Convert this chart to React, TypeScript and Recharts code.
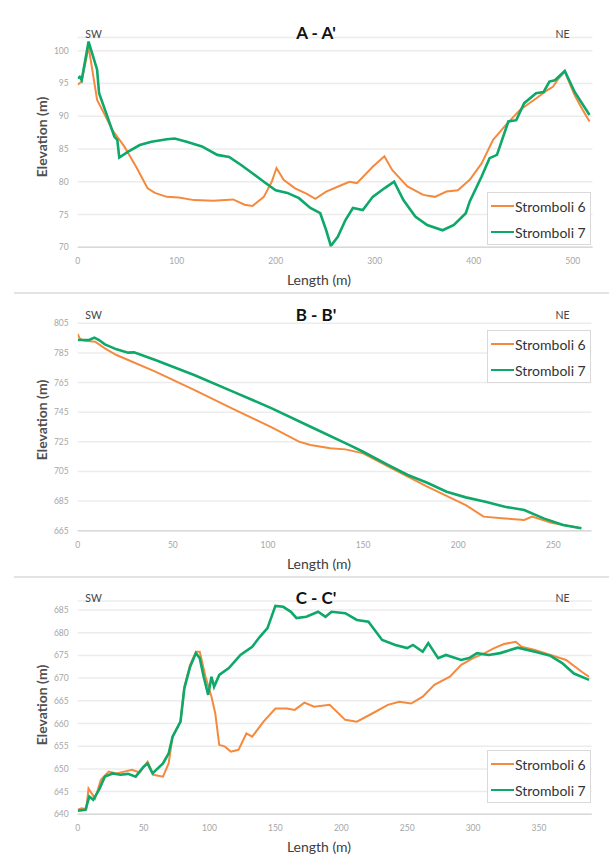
import React from 'react';
import { LineChart, Line, XAxis, YAxis, CartesianGrid } from 'recharts';

const FONT = 'Lato, "Noto Sans", sans-serif';
const ORANGE = '#F5893D';
const GREEN = '#0DA86A';

// A - A'
const A_LEN_TICKS = [0, 100, 200, 300, 400, 500];
const A_ELEV_TICKS = [70, 75, 80, 85, 90, 95, 100];
const A_S6_LEN = [0, 4, 11, 19.6, 26.7, 35, 47, 59, 70.6, 78, 90, 102, 117.6, 137, 157, 168.6, 176.5, 188, 196, 200.8, 208, 219.6, 231, 240, 251, 266.7, 274.5, 282, 298, 309.8, 317.6, 333, 349, 360.8, 372.5, 384, 396, 408, 419.6, 431, 447, 463, 474.5, 480, 486, 492, 502, 510, 517];
const A_S6_ELEV = [94.8, 95.3, 100.6, 92.5, 90.4, 87.9, 85.4, 82.3, 79.0, 78.3, 77.7, 77.6, 77.2, 77.1, 77.3, 76.5, 76.3, 77.7, 80.0, 82.1, 80.3, 79.0, 78.2, 77.4, 78.5, 79.5, 80.0, 79.8, 82.3, 83.9, 81.8, 79.3, 78.0, 77.7, 78.5, 78.7, 80.3, 82.8, 86.4, 88.4, 91.0, 92.7, 94.0, 94.5, 95.8, 96.8, 93.2, 91.0, 89.2];
const A_S7_LEN = [0, 2, 4, 11, 19.6, 21.6, 29.4, 37, 40, 42, 51, 62.7, 74.5, 90, 98, 110, 125.5, 141, 153, 164.7, 176.5, 188, 200, 211.8, 223.5, 235, 245, 251, 255.7, 262.7, 270.6, 278, 288, 298, 309.8, 319.6, 329, 341, 353, 368.6, 380, 392, 396, 408, 416, 423.5, 435, 443, 451, 463, 470.6, 476.5, 482, 492, 502, 517];
const A_S7_ELEV = [95.8, 96.0, 95.5, 101.4, 97.1, 93.5, 90.2, 86.9, 86.4, 83.7, 84.6, 85.6, 86.1, 86.5, 86.6, 86.1, 85.4, 84.1, 83.8, 82.6, 81.3, 80.0, 78.7, 78.3, 77.5, 76.0, 75.2, 72.6, 70.2, 71.6, 74.2, 76.0, 75.7, 77.7, 79.0, 80.0, 77.2, 74.7, 73.4, 72.6, 73.4, 75.2, 77.0, 80.8, 83.6, 84.1, 89.2, 89.4, 92.0, 93.5, 93.7, 95.3, 95.5, 96.9, 93.7, 90.2];

// B - B'
const B_LEN_TICKS = [0, 50, 100, 150, 200, 250];
const B_ELEV_TICKS = [665, 685, 705, 725, 745, 765, 785, 805];
const B_S6_LEN = [0, 1, 3, 9.2, 14.3, 20.4, 40.8, 61.2, 81.6, 102, 116.3, 122.4, 132.7, 140.8, 150, 163.3, 183.7, 204, 213.3, 224.5, 234.7, 238.8, 249, 264.7];
const B_S6_ELEV = [797.8, 794.9, 793.3, 792.6, 788.1, 783.6, 772.4, 760, 747.2, 734.8, 725.1, 722.9, 720.6, 719.9, 717.2, 708.2, 694.7, 682.3, 674.5, 673.3, 672.2, 674.5, 670.4, 666.6];
const B_S7_LEN = [0, 6, 8.8, 11.2, 14.3, 20.4, 26.5, 29.6, 40.8, 61.2, 81.6, 102, 122.4, 142.9, 150, 163.3, 173.5, 183.7, 193.9, 204, 214.3, 224.5, 234.7, 244.9, 255.1, 264.7];
const B_S7_ELEV = [793.7, 793.7, 795.3, 793.7, 790.8, 787.4, 785.2, 785.4, 780.2, 770.1, 758.9, 747.6, 735.2, 722.8, 718.3, 709.3, 702.6, 697.4, 691.3, 687.5, 684.6, 681.2, 679, 673.3, 668.8, 666.6];

// C - C'
const C_LEN_TICKS = [0, 50, 100, 150, 200, 250, 300, 350];
const C_ELEV_TICKS = [640, 645, 650, 655, 660, 665, 670, 675, 680, 685];
const C_S6_LEN = [0, 3, 6.5, 8.2, 10.6, 13.2, 17.6, 23.5, 29.4, 35.3, 41.2, 47, 53, 57.4, 64.7, 69, 72, 78, 80.9, 85.3, 89.7, 92.6, 97, 101.5, 104.4, 107.4, 111.8, 116.2, 122, 128, 132.4, 141, 150, 158.8, 164.7, 172, 179.4, 191.2, 203, 211.8, 223.5, 235.3, 244, 253, 261.8, 270.6, 282.4, 291, 300, 308.8, 316, 323.5, 332.4, 336.8, 347, 358.8, 370.6, 382.4, 388];
const C_S6_ELEV = [641, 641.3, 641.1, 645.7, 644.6, 643.5, 647.6, 649.4, 649.0, 649.4, 649.8, 649.2, 651.6, 648.7, 648.3, 651.2, 657.1, 660.4, 668.1, 672.9, 675.8, 675.8, 670.3, 665.9, 662.2, 655.3, 654.9, 653.8, 654.2, 657.8, 657.1, 660.4, 663.3, 663.3, 663, 664.6, 663.7, 664.1, 660.8, 660.4, 662.2, 664.1, 664.8, 664.4, 665.9, 668.5, 670.3, 672.9, 674.4, 675.5, 676.6, 677.5, 678, 676.9, 676.2, 675.1, 674, 671.4, 670.3];
const C_S7_LEN = [0, 5.9, 8.8, 11.8, 16.2, 20.6, 26.5, 32.4, 38.2, 44, 50, 53, 56.8, 64.7, 69, 72, 78, 80.9, 85.3, 89.7, 92.6, 95.6, 99, 101.5, 103.5, 107.4, 114.7, 123.5, 132.4, 138.2, 144, 150, 155.9, 161.8, 166, 173.5, 182.4, 188, 192.6, 203, 211.8, 220.6, 231, 241, 250, 254.4, 261.8, 266, 273.5, 279.4, 291, 297, 303, 311.8, 320.6, 333.8, 347, 358.8, 367.6, 376.5, 388];
const C_S7_ELEV = [640.8, 641, 643.9, 643.2, 645.4, 648.3, 649, 648.7, 648.9, 648.3, 650.5, 651.2, 649, 651.2, 653.4, 657.1, 660.4, 667.7, 672.5, 675.5, 674.4, 670.3, 666.3, 670.3, 668.1, 670.7, 672.2, 675.1, 676.9, 679.1, 681, 685.9, 685.7, 684.6, 683.2, 683.5, 684.6, 683.5, 684.6, 684.3, 682.8, 682.4, 678.4, 677.3, 676.6, 677.3, 675.8, 677.7, 674.4, 675.1, 674, 674.4, 675.5, 675.1, 675.5, 676.7, 675.8, 674.9, 673.3, 671, 669.6];

const SERIES = [
  { name: 'Stromboli 6', color: ORANGE, width: 2 },
  { name: 'Stromboli 7', color: GREEN, width: 2.6 },
];

const zip = (len: number[], elev: number[]) => len.map((x, i) => ({ x, y: elev[i] }));

function LegendBox({ top }: { top: number }) {
  return (
    <div
      style={{
        position: 'absolute',
        left: 487,
        top,
        width: 104,
        height: 53,
        boxSizing: 'border-box',
        background: '#fff',
        border: '1px solid #d9d9d9',
        padding: '0 0 0 3px',
        fontFamily: FONT,
      }}
    >
      {SERIES.map((s) => (
        <div key={s.name} style={{ display: 'flex', alignItems: 'center', height: 26, whiteSpace: 'nowrap' }}>
          <div style={{ width: 23, height: s.width, background: s.color, marginRight: 1 }} />
          <span style={{ fontSize: 14, color: '#333' }}>{s.name}</span>
        </div>
      ))}
    </div>
  );
}

interface PanelProps {
  top: number;
  height: number;
  title: string;
  margin: { top: number; right: number; bottom: number; left: number };
  xDomain: [number, number];
  yDomain: [number, number];
  xTicks: number[];
  yTicks: number[];
  s6: { x: number; y: number }[];
  s7: { x: number; y: number }[];
  titleY: number;
  lengthY: number;
  elevY: number;
  legendTop: number;
  separator: boolean;
}

const label = (text: string, x: number, y: number, style: React.CSSProperties, rotate = false) => (
  <div
    style={{
      position: 'absolute',
      left: x,
      top: y,
      transform: `translate(-50%, -50%)${rotate ? ' rotate(-90deg)' : ''}`,
      whiteSpace: 'nowrap',
      fontFamily: FONT,
      lineHeight: 1,
      ...style,
    }}
  >
    {text}
  </div>
);

function Panel(p: PanelProps) {
  const tick = { fontSize: 8.5, fill: '#a6a6a6', fontFamily: FONT };
  return (
    <div style={{ position: 'absolute', left: 0, top: p.top, width: 609, height: p.height }}>
      <LineChart width={609} height={p.height} margin={p.margin}>
        <CartesianGrid vertical={false} stroke="#ececec" strokeWidth={1.5} />
        <XAxis
          type="number"
          dataKey="x"
          domain={p.xDomain}
          ticks={p.xTicks}
          interval={0}
          allowDataOverflow
          height={30}
          tickLine={false}
          axisLine={{ stroke: '#d9d9d9', strokeWidth: 1.5 }}
          tick={tick}
          tickMargin={5}
        />
        <YAxis
          type="number"
          dataKey="y"
          domain={p.yDomain}
          ticks={p.yTicks}
          interval={0}
          allowDataOverflow
          width={40}
          tickLine={false}
          axisLine={false}
          tick={tick}
          tickMargin={3}
        />
        <Line data={p.s6} dataKey="y" name="Stromboli 6" stroke={ORANGE} strokeWidth={2} dot={false} isAnimationActive={false} />
        <Line data={p.s7} dataKey="y" name="Stromboli 7" stroke={GREEN} strokeWidth={2.6} dot={false} isAnimationActive={false} />
      </LineChart>
      <LegendBox top={p.legendTop} />
      {label(p.title, 316, p.titleY, { fontSize: 17, fontWeight: 700, color: '#111' })}
      {label('SW', 93.5, p.titleY + 1.5, { fontSize: 10.5, color: '#444' })}
      {label('NE', 562.5, p.titleY + 1.5, { fontSize: 10.5, color: '#444' })}
      {label('Length (m)', 319, p.lengthY, { fontSize: 14, color: '#404040' })}
      {label('Elevation (m)', 42, p.elevY, { fontSize: 14, fontWeight: 700, color: '#505050' }, true)}
      {p.separator && (
        <div style={{ position: 'absolute', left: 14, right: 0, bottom: 0, height: 2, background: '#e3e3e3' }} />
      )}
    </div>
  );
}

export default function App() {
  return (
    <div style={{ position: 'absolute', left: 0, top: 0, width: 609, height: 855, background: '#fff', overflow: 'hidden' }}>
      <Panel
        top={0}
        height={294}
        title="A - A'"
        margin={{ top: 37.6, right: 16.5, bottom: 16.7, left: 37.7 }}
        xDomain={[0, 520]}
        yDomain={[70, 102]}
        xTicks={A_LEN_TICKS}
        yTicks={A_ELEV_TICKS}
        s6={zip(A_S6_LEN, A_S6_ELEV)}
        s7={zip(A_S7_LEN, A_S7_ELEV)}
        titleY={32}
        lengthY={280}
        elevY={137}
        legendTop={192}
        separator
      />
      <Panel
        top={294}
        height={284}
        title="B - B'"
        margin={{ top: 29.3, right: 17.6, bottom: 17.3, left: 37.7 }}
        xDomain={[0, 270]}
        yDomain={[665, 805]}
        xTicks={B_LEN_TICKS}
        yTicks={B_ELEV_TICKS}
        s6={zip(B_S6_LEN, B_S6_ELEV)}
        s7={zip(B_S7_LEN, B_S7_ELEV)}
        titleY={19.5}
        lengthY={269.5}
        elevY={126}
        legendTop={36}
        separator
      />
      <Panel
        top={578}
        height={277}
        title="C - C'"
        margin={{ top: 22.9, right: 17.3, bottom: 10.7, left: 37.7 }}
        xDomain={[0, 390]}
        yDomain={[640, 687]}
        xTicks={C_LEN_TICKS}
        yTicks={C_ELEV_TICKS}
        s6={zip(C_S6_LEN, C_S6_ELEV)}
        s7={zip(C_S7_LEN, C_S7_ELEV)}
        titleY={18.7}
        lengthY={268.7}
        elevY={127}
        legendTop={172}
        separator={false}
      />
    </div>
  );
}
